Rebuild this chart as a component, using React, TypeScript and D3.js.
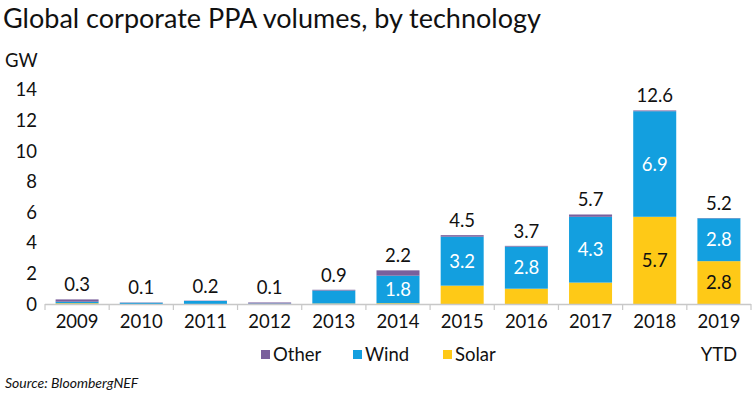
import React from "react";
import * as d3 from "d3";

const years = ["2009", "2010", "2011", "2012", "2013", "2014", "2015", "2016", "2017", "2018", "2019"];
const solar = [0.05, 0, 0, 0, 0.03, 0.05, 1.2, 1.0, 1.4, 5.7, 2.8];
const wind = [0.1, 0.08, 0.2, 0.03, 0.85, 1.8, 3.2, 2.75, 4.3, 6.9, 2.8];
const other = [0.15, 0.02, 0.02, 0.07, 0.05, 0.35, 0.1, 0.05, 0.15, 0.05, 0.02];
const totalLabels = ["0.3", "0.1", "0.2", "0.1", "0.9", "2.2", "4.5", "3.7", "5.7", "12.6", "5.2"];
const windLabels = ["", "", "", "", "", "1.8", "3.2", "2.8", "4.3", "6.9", "2.8"];
const solarLabels = ["", "", "", "", "", "", "", "", "", "5.7", "2.8"];
const yTicks = [0, 2, 4, 6, 8, 10, 12, 14];
const seriesNames = ["Other", "Wind", "Solar"];

const colors: Record<string, string> = { Solar: "#fec917", Wind: "#139fdf", Other: "#7a5f9c" };
const FONT = "Lato, 'Open Sans', sans-serif";
const FS = 18.5;

export default function App() {
  const W = 753, H = 398;
  const x = d3.scaleBand<string>().domain(years).range([45, 751]).paddingInner(0.33).paddingOuter(0.165);
  const y = d3.scaleLinear().domain([0, 14]).range([304, 89.8]);
  const rows = years.map((yr, i) => ({ yr, Solar: solar[i], Wind: wind[i], Other: other[i] }));
  const stack = d3.stack<any>().keys(["Solar", "Wind", "Other"])(rows);
  const step = x.step();
  const boundaries = d3.range(years.length + 1).map((i) => 45 + i * step);

  return (
    <div style={{ position: "absolute", left: 0, top: 0 }}>
      <svg width={W} height={H} style={{ display: "block", background: "#fff" }}>
        <text x={3} y={28} fontFamily={FONT} fontSize={27} fill="#111">
          Global corporate PPA volumes, by technology
        </text>
        <text x={5} y={67} fontFamily={FONT} fontSize={FS} fill="#111">GW</text>
        {yTicks.map((t) => (
          <text key={t} x={37} y={y(t) + 6.5} textAnchor="end" fontFamily={FONT} fontSize={FS} fill="#111">
            {t}
          </text>
        ))}
        {stack.map((s) => (
          <g key={s.key} fill={colors[s.key]}>
            {s.map((d: any, i: number) => (
              <rect key={i} x={x(years[i])!} width={x.bandwidth()} y={y(d[1])} height={Math.max(0, y(d[0]) - y(d[1]))} />
            ))}
          </g>
        ))}
        <line x1={45} x2={751} y1={304.5} y2={304.5} stroke="#c8c8c8" strokeWidth={1.5} />
        {boundaries.map((b, i) => (
          <line key={i} x1={b} x2={b} y1={304} y2={310} stroke="#c8c8c8" strokeWidth={1.2} />
        ))}
        {years.map((yr, i) => (
          <text key={yr} x={x(yr)! + x.bandwidth() / 2} y={328} textAnchor="middle" fontFamily={FONT} fontSize={FS} fill="#111">
            {yr}
          </text>
        ))}
        <text x={x("2019")! + x.bandwidth() / 2} y={361} textAnchor="middle" fontFamily={FONT} fontSize={FS} fill="#111">YTD</text>
        {years.map((yr, i) => {
          const top = solar[i] + wind[i] + other[i];
          return (
            <text key={"t" + yr} x={x(yr)! + x.bandwidth() / 2} y={y(top) - 8} textAnchor="middle" fontFamily={FONT} fontSize={FS} fill="#111">
              {totalLabels[i]}
            </text>
          );
        })}
        {years.map((yr, i) =>
          windLabels[i] ? (
            <text key={"w" + yr} x={x(yr)! + x.bandwidth() / 2} y={y(solar[i] + wind[i] / 2) + 6.5} textAnchor="middle" fontFamily={FONT} fontSize={FS} fill="#fff">
              {windLabels[i]}
            </text>
          ) : null
        )}
        {years.map((yr, i) =>
          solarLabels[i] ? (
            <text key={"s" + yr} x={x(yr)! + x.bandwidth() / 2} y={y(solar[i] / 2) + 6.5} textAnchor="middle" fontFamily={FONT} fontSize={FS} fill="#111">
              {solarLabels[i]}
            </text>
          ) : null
        )}
        {seriesNames.map((n, i) => {
          const lx = [261, 353, 443][i];
          return (
            <g key={n}>
              <rect x={lx} y={350} width={9} height={9} fill={colors[n]} />
              <text x={lx + 12} y={361} fontFamily={FONT} fontSize={FS} fill="#111">{n}</text>
            </g>
          );
        })}
        <text x={5} y={388} fontFamily={FONT} fontSize={14} fontStyle="italic" fill="#111">Source: BloombergNEF</text>
      </svg>
    </div>
  );
}
